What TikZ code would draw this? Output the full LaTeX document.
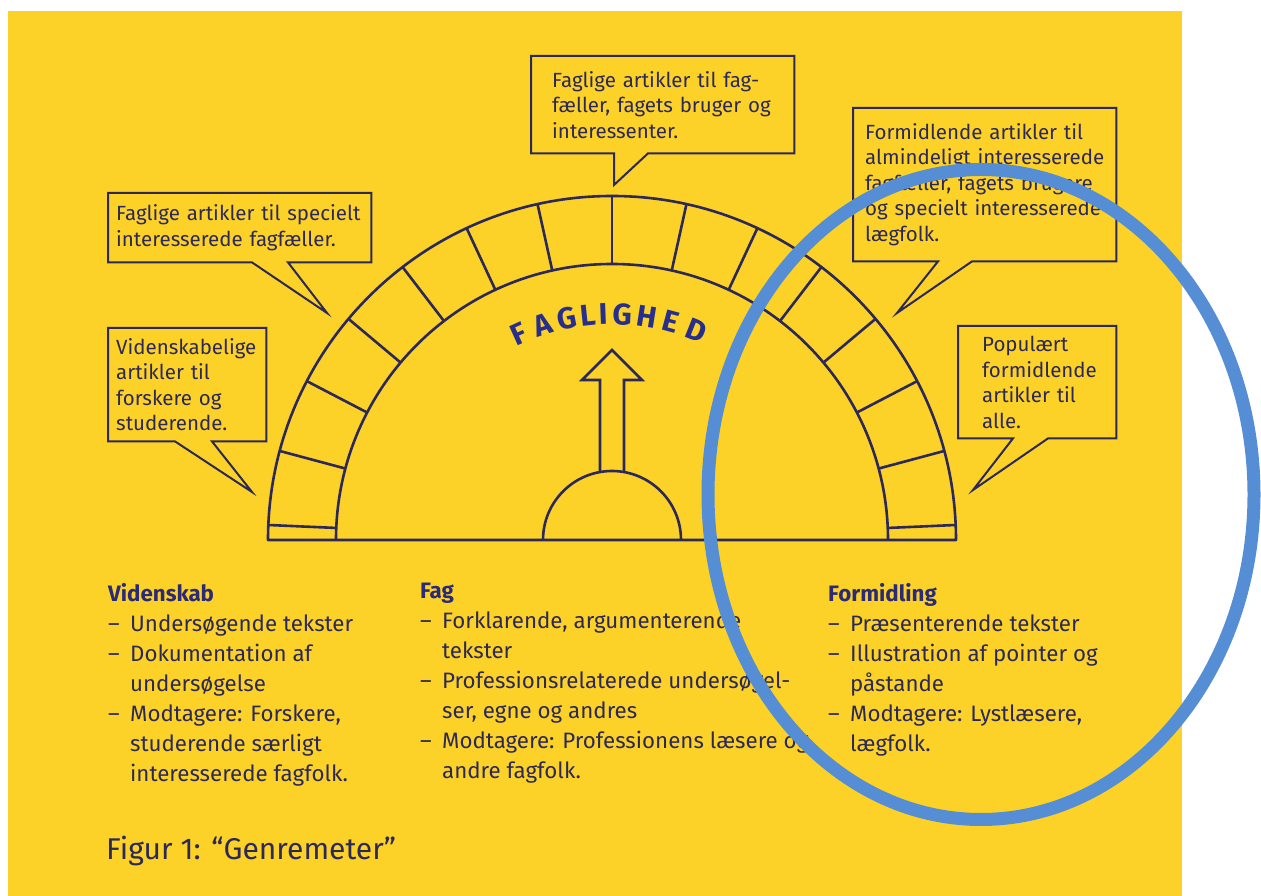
\documentclass[tikz,border=0pt]{standalone}
\usepackage{fontspec}
\setmainfont{Fira Sans}
\usetikzlibrary{calc}

\definecolor{sheet}{RGB}{252,210,40}
\definecolor{ink}{RGB}{44,40,88}
\definecolor{headink}{RGB}{42,42,120}
\definecolor{stamp}{RGB}{40,46,140}
\definecolor{ring}{RGB}{85,142,213}

\newcommand{\boxfont}{\fontsize{20.5}{25.5}\selectfont}
\newcommand{\colfont}{\fontsize{22.3}{30}\selectfont}
\newcommand{\itm}{\makebox[22pt][l]{–}}
\newcommand{\cnt}{\hspace*{22pt}}

\tikzset{
  speech/.style={anchor=north west, align=left, inner ysep=0pt, font=\boxfont, text=ink},
  column/.style={anchor=north west, align=left, inner sep=0pt, font=\colfont, text=ink},
  outline/.style={draw=ink, line width=2pt, line join=miter},
  arch/.style={draw=ink, line width=2.6pt},
  stampletter/.style={font=\fontsize{30}{30}\selectfont\bfseries, text=stamp, inner sep=0pt},
}

\begin{document}
\begin{tikzpicture}[x=1pt, y=1pt, line join=round]
    \useasboundingbox (0,0) rectangle (1261,896);
    \fill[white] (0,0) rectangle (1261,896);
    \fill[sheet] (8,0) rectangle (1182,885);

    % the arch
    \coordinate (C) at (612,356);
    \draw[arch] (268,356) arc[start angle=180, end angle=0, radius=344] -- cycle;
    \draw[arch] (336,356) arc[start angle=180, end angle=0, radius=276];
    \foreach \a in {2.5,15,...,177.5}
      \draw[arch] ([shift={(\a:276)}]C) -- ([shift={(\a:344)}]C);
    \draw[arch] (543,356) arc[start angle=180, end angle=0, radius=69];
    \draw[arch, line join=miter] (600,424) -- (600,516) -- (582,516) -- (612,546)
      -- (642,516) -- (624,516) -- (624,424);

    % FAGLIGHED round the inside
    \foreach \ch/\ang [count=\i] in {F/114.4, A/107.8, G/101.5, L/96.0, I/92.2,
        G/87.4, H/81.0, E/74.8, D/68.2}
      \node[stampletter, rotate=\ang-90] (fl\i) at ([shift={(\ang:226)}]C) {\ch};

    % speech boxes
    \node[speech, minimum width=263, minimum height=69, inner xsep=8pt, text width=247pt]
      (fagsp) at (108,703) {Faglige artikler til specielt\\interesserede fagfæller.};
    \node[speech, minimum width=263, minimum height=97, inner xsep=21pt, text width=221pt]
      (fagbr) at (531,840) {Faglige artikler til fag-\\fæller, fagets bruger og\\interessenter.};
    \node[speech, minimum width=263, minimum height=153, inner xsep=12pt, text width=239pt]
      (formal) at (853,788) {Formidlende artikler til\\almindeligt interesserede\\fagfæller, fagets brugere\\og specielt interesserede\\lægfolk.};
    \node[speech, minimum width=158, minimum height=113, inner xsep=8pt, text width=142pt]
      (viden) at (108,568) {Videnskabelige\\artikler til\\forskere og\\studerende.};
    \node[speech, minimum width=158, minimum height=112, inner xsep=24pt, text width=110pt]
      (popul) at (958,570) {Populært\\formidlende\\artikler til\\alle.};

    \coordinate (tfagsp) at (327,583);
    \coordinate (tfagbr) at (614,711);
    \coordinate (tformal) at (897,583);
    \coordinate (tviden) at (252,404);
    \coordinate (tpopul) at (973,406);

    \foreach \b/\p/\q in {fagsp/144/180, fagbr/83/117, formal/85/119, viden/67/104, popul/55/90}
      \draw[outline] (\b.south west) -- ([xshift=\p]\b.south west) -- (t\b)
        -- ([xshift=\q]\b.south west) -- (\b.south east) -- (\b.north east)
        -- (\b.north west) -- cycle;

    % the three columns
    \node[column] (colvid) at (108,313) {{\bfseries\color{headink}Videnskab}\\
      \itm Undersøgende tekster\\
      \itm Dokumentation af\\
      \cnt undersøgelse\\
      \itm Modtagere: Forskere,\\
      \cnt studerende særligt\\
      \cnt interesserede fagfolk.};
    \node[column] (colfag) at (420,313) {{\bfseries\color{headink}Fag}\\
      \itm Forklarende, argumenterende\\
      \cnt tekster\\
      \itm Professionsrelaterede undersøgel-\\
      \cnt ser, egne og andres\\
      \itm Modtagere: Professionens læsere og\\
      \cnt andre fagfolk.};
    \node[column] (colfor) at (828,313) {{\bfseries\color{headink}Formidling}\\
      \itm Præsenterende tekster\\
      \itm Illustration af pointer og\\
      \cnt påstande\\
      \itm Modtagere: Lystlæsere,\\
      \cnt lægfolk.};

    \node[anchor=base west, inner sep=0pt, text=ink, font=\fontsize{30}{30}\selectfont]
      (caption) at (106,36) {Figur 1: “Genremeter"};

    % blue ring on top
    \draw[ring, line width=13pt] (981,401.5) ellipse[x radius=273, y radius=325];
\end{tikzpicture}
\end{document}
